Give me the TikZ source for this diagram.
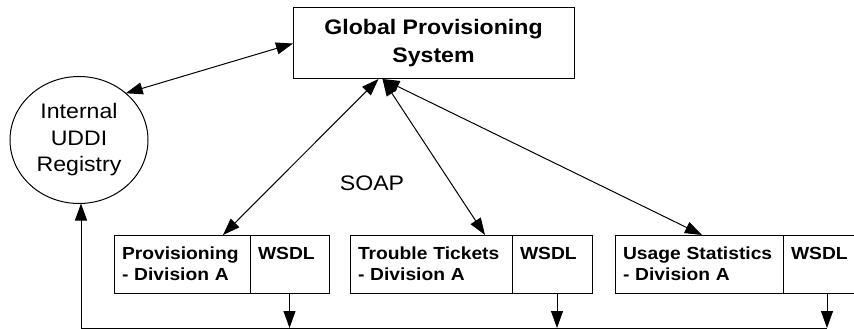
\documentclass[tikz,border=0pt]{standalone}
\usepackage{fontspec}
\setmainfont{Liberation Sans}[FakeStretch=1.1]
\usetikzlibrary{arrows.meta,shapes.geometric,positioning,calc}

\begin{document}
\begin{tikzpicture}[
    x=1pt, y=-1pt,
    every node/.style={outer sep=0pt},
    gps/.style={rectangle, draw, line width=1pt, minimum width=281pt, minimum height=71pt, align=center, font=\fontsize{21}{28}\selectfont\bfseries},
    reg/.style={ellipse, draw, line width=1pt, minimum width=138pt, minimum height=127pt, inner sep=0pt, align=center, font=\fontsize{21}{26.5}\selectfont},
    svc/.style={rectangle, draw, line width=1pt, minimum height=58pt, inner xsep=8pt, align=left, font=\fontsize{17.5}{21}\selectfont\bfseries},
    arrow/.style={line width=1pt, -{Triangle[length=17pt,width=12pt]}},
    comm/.style={line width=1pt, {Triangle[length=17pt,width=12pt]}-{Triangle[length=17pt,width=12pt]}}
  ]
    \useasboundingbox (0,0) rectangle (854,329);

    % central system and the registry
    \node[gps] (global) at (433.5,43.5) {Global Provisioning\\System};
    \node[reg] (registry) at (79,140) {Internal\\UDDI\\Registry};
    \node[font=\fontsize{21}{26}\selectfont] (soap) at (372,183) {SOAP};

    % division services, each with its WSDL cell
    \node[svc, text width=120pt, anchor=north west] (prov) at (114,235) {Provisioning\\- Division A};
    \node[svc, text width=63pt, right=0pt of prov] (wsdlprov) {WSDL\\\phantom{A}};
    \node[svc, text width=146pt, anchor=north west] (trouble) at (350,235) {Trouble Tickets\\- Division A};
    \node[svc, text width=64pt, right=0pt of trouble] (wsdltrouble) {WSDL\\\phantom{A}};
    \node[svc, text width=152pt, anchor=north west] (usage) at (615,235) {Usage Statistics\\- Division A};
    \node[svc, text width=72pt, right=0pt of usage] (wsdlusage) {WSDL\\\phantom{A}};

    \coordinate (bus) at (81,328);

    % SOAP links
    \draw[comm] (registry.45) -- (global.west);
    \draw[comm] ([xshift=-55pt]global.south) -- ([xshift=41pt]prov.north);
    \draw[comm] ([xshift=-51pt]global.south) -- ([xshift=54pt]trouble.north);
    \draw[comm] ([xshift=-51pt]global.south) -- ([xshift=3pt]usage.north);

    % publishing to the registry
    \draw[arrow] (wsdlprov.south) -- (wsdlprov.south |- bus);
    \draw[arrow] ([xshift=5pt]wsdltrouble.south) -- ([xshift=5pt]wsdltrouble.south |- bus);
    \draw[arrow] (wsdlusage.south) -- (wsdlusage.south |- bus);
    \draw[arrow] (wsdlusage.south |- bus) -- (bus) -- (bus |- registry.south);

  \end{tikzpicture}
\end{document}
